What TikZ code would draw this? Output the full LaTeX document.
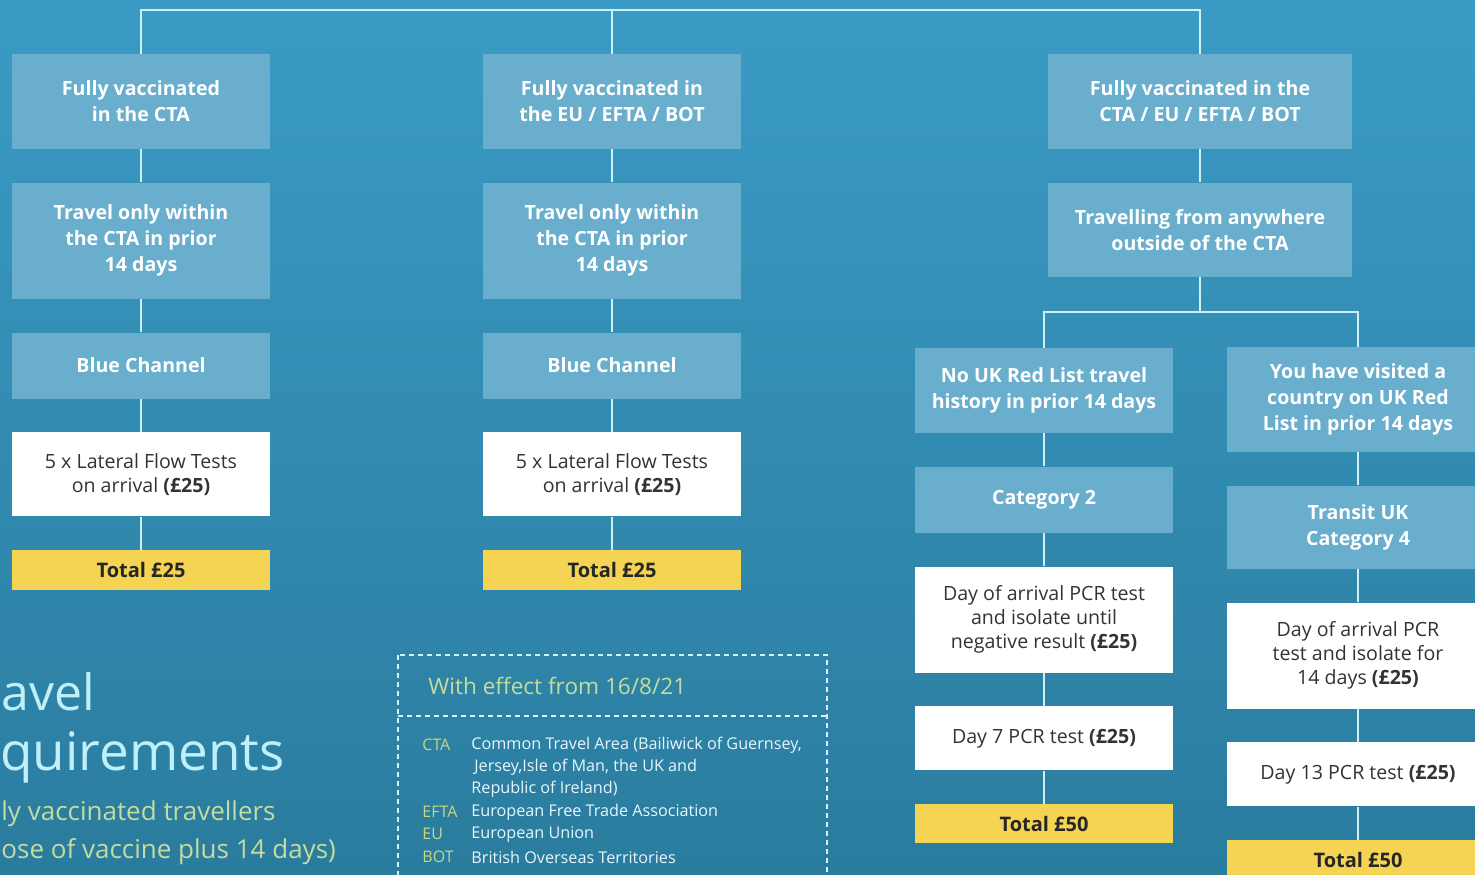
\documentclass[tikz,border=0pt]{standalone}
\usepackage{fontspec}
\setmainfont{Open Sans}
\usepackage{xcolor}
\usepackage{tikz}
\usetikzlibrary{positioning}

\definecolor{bgtop}{HTML}{3A9BC5}
\definecolor{bgbottom}{HTML}{2A7C9E}
\definecolor{boxblue}{HTML}{69AECD}
\definecolor{linkcyan}{HTML}{CDF0F7}
\definecolor{totalyellow}{HTML}{F4D452}
\definecolor{darktext}{HTML}{333333}
\definecolor{titlecyan}{HTML}{BFEFF8}
\definecolor{subgreen}{HTML}{C4DC9E}
\definecolor{abbrgreen}{HTML}{C9D680}

\begin{document}
\begin{tikzpicture}[
    x=0.5pt, y=-0.5pt,
    node distance=16.5pt,
    stepbox/.style={fill=boxblue, text=white, font=\fontsize{9.8}{13}\selectfont\bfseries, align=center, inner sep=0pt, minimum width=129pt},
    testbox/.style={fill=white, text=darktext, font=\fontsize{9.8}{12}\selectfont, align=center, inner sep=0pt, minimum width=129pt},
    totalbox/.style={fill=totalyellow, text=black!85, font=\fontsize{10}{12}\selectfont\bfseries, inner sep=0pt, minimum width=129pt},
    link/.style={draw=linkcyan, line width=1.1pt},
    legendline/.style={draw=linkcyan!80, line width=0.7pt, dash pattern=on 2.5pt off 2pt},
    abbr/.style={anchor=west, inner sep=0pt, text=abbrgreen, font=\fontsize{8}{11}\selectfont},
    meaning/.style={anchor=west, inner sep=0pt, text=white!90!cyan, font=\fontsize{8.1}{11}\selectfont}
    ]
        %Background
        \useasboundingbox (0,0) rectangle (1475,874);
        \fill[top color=bgtop, bottom color=bgbottom] (0,0) rectangle (1475,874);

        %Nodes
        \node[stepbox, minimum height=47.5pt]
            (a1)    at (141,101.5)  {Fully vaccinated\\in the CTA};
        \node[stepbox, minimum height=58pt]
            (a2)    [below=of a1]   {Travel only within\\the CTA in prior\\14 days};
        \node[stepbox, minimum height=33pt]
            (a3)    [below=of a2]   {Blue Channel};
        \node[testbox, minimum height=42pt]
            (a4)    [below=of a3]   {5 x Lateral Flow Tests\\on arrival \textbf{(£25)}};
        \node[totalbox, minimum height=20pt]
            (a5)    [below=of a4]   {Total £25};

        \node[stepbox, minimum height=47.5pt]
            (b1)    at (612,101.5)  {Fully vaccinated in\\the EU / EFTA / BOT};
        \node[stepbox, minimum height=58pt]
            (b2)    [below=of b1]   {Travel only within\\the CTA in prior\\14 days};
        \node[stepbox, minimum height=33pt]
            (b3)    [below=of b2]   {Blue Channel};
        \node[testbox, minimum height=42pt]
            (b4)    [below=of b3]   {5 x Lateral Flow Tests\\on arrival \textbf{(£25)}};
        \node[totalbox, minimum height=20pt]
            (b5)    [below=of b4]   {Total £25};

        \node[stepbox, minimum height=47.5pt, minimum width=152pt]
            (c1)    at (1200,101.5) {Fully vaccinated in the\\CTA / EU / EFTA / BOT};
        \node[stepbox, minimum height=47pt, minimum width=152pt]
            (c2)    [below=of c1]   {Travelling from anywhere\\outside of the CTA};

        \node[stepbox, minimum height=42.5pt]
            (d1)    at (1044,390.5) {No UK Red List travel\\history in prior 14 days};
        \node[stepbox, minimum height=33pt]
            (d2)    [below=of d1]   {Category 2};
        \node[testbox, minimum height=53pt]
            (d3)    [below=of d2]   {Day of arrival PCR test\\and isolate until\\negative result \textbf{(£25)}};
        \node[testbox, minimum height=32pt]
            (d4)    [below=of d3]   {Day 7 PCR test \textbf{(£25)}};
        \node[totalbox, minimum height=19.5pt]
            (d5)    [below=of d4]   {Total £50};

        \node[stepbox, minimum height=52.5pt, minimum width=131pt]
            (e1)    at (1358,399.5) {You have visited a\\country on UK Red\\List in prior 14 days};
        \node[stepbox, minimum height=41.5pt, minimum width=131pt]
            (e2)    [below=of e1]   {Transit UK\\Category 4};
        \node[testbox, minimum height=53pt, minimum width=131pt]
            (e3)    [below=of e2]   {Day of arrival PCR\\test and isolate for\\14 days \textbf{(£25)}};
        \node[testbox, minimum height=32pt, minimum width=131pt]
            (e4)    [below=of e3]   {Day 13 PCR test \textbf{(£25)}};
        \node[totalbox, minimum height=20pt, minimum width=131pt]
            (e5)    [below=of e4]   {Total £50};

        \coordinate (topbar) at (612,10);
        \coordinate (split)  at (1200,312);

        %Lines
        \draw[link] (a1.north) |- (topbar) -| (c1.north);
        \draw[link] (b1.north) -- (b1.north |- topbar);
        \draw[link] (a1) -- (a2) (a2) -- (a3) (a3) -- (a4) (a4) -- (a5);
        \draw[link] (b1) -- (b2) (b2) -- (b3) (b3) -- (b4) (b4) -- (b5);
        \draw[link] (c1) -- (c2);
        \draw[link] (c2.south) -- (c2.south |- split);
        \draw[link] (d1.north) |- (split) -| (e1.north);
        \draw[link] (d1) -- (d2) (d2) -- (d3) (d3) -- (d4) (d4) -- (d5);
        \draw[link] (e1) -- (e2) (e2) -- (e3) (e3) -- (e4) (e4) -- (e5);

        %Title
        \node[anchor=base west, inner sep=0pt, text=titlecyan, font=\fontsize{25}{30}\selectfont]
            (title1)    at (1,710)      {avel};
        \node[anchor=base west, inner sep=0pt, text=titlecyan, font=\fontsize{26.5}{30}\selectfont]
            (title2)    at (0,770)      {quirements};
        \node[anchor=base west, inner sep=0pt, text=subgreen, font=\fontsize{13}{16}\selectfont]
            (sub1)      at (1,820)      {ly vaccinated travellers};
        \node[anchor=base west, inner sep=0pt, text=subgreen, font=\fontsize{13}{16}\selectfont]
            (sub2)      at (1,858)      {ose of vaccine plus 14 days)};

        %Legend
        \draw[legendline] (398,655) rectangle (827,900);
        \draw[legendline] (398,716) -- (827,716);
        \node[anchor=west, inner sep=0pt, text=subgreen, font=\fontsize{11.3}{13}\selectfont]
            (effect)    at (428,686)    {With effect from 16/8/21};
        \node[abbr]     (cta)   at (422,745)    {CTA};
        \node[meaning]  (ctaA)  at (471,745)    {Common Travel Area (Bailiwick of Guernsey,};
        \node[meaning]  (ctaB)  at (474,767)    {Jersey,Isle of Man, the UK and};
        \node[meaning]  (ctaC)  at (471,789)    {Republic of Ireland)};
        \node[abbr]     (efta)  at (422,812)    {EFTA};
        \node[meaning]  (eftaA) at (471,812)    {European Free Trade Association};
        \node[abbr]     (eu)    at (422,834)    {EU};
        \node[meaning]  (euA)   at (471,834)    {European Union};
        \node[abbr]     (bot)   at (422,857)    {BOT};
        \node[meaning]  (botA)  at (471,857)    {British Overseas Territories};
    \end{tikzpicture}
\end{document}
